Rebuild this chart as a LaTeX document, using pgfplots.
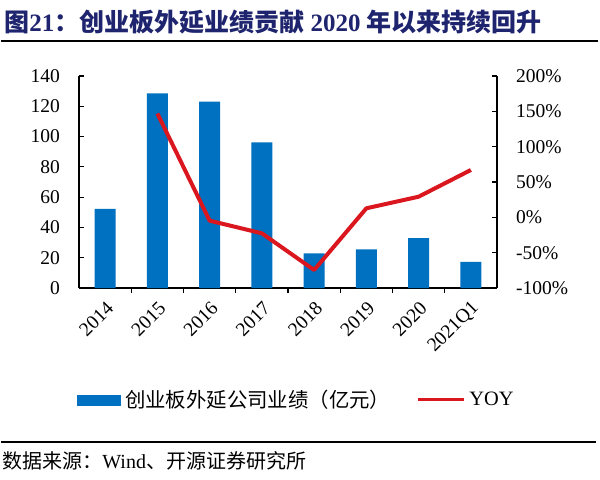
\documentclass[border=0pt]{standalone}
\usepackage{pgfplots}
\pgfplotsset{compat=1.18}
\usepackage{fontspec}
\setmainfont{Liberation Serif}
\newfontfamily\cjk{Noto Sans CJK SC}
\definecolor{barblue}{RGB}{0,112,192}
\definecolor{linered}{RGB}{218,22,30}
\definecolor{titleblue}{RGB}{30,36,110}
\begin{document}
\begin{tikzpicture}
\path[use as bounding box] (0,0) rectangle (300pt,239.5pt);
% title
\node[anchor=west, inner sep=0pt, text=titleblue, font=\fontsize{12.5}{14}\selectfont\bfseries] at (2pt,228.5pt)
  {{\cjk\bfseries 图}21{\cjk\bfseries ：创业板外延业绩贡献} 2020 {\cjk\bfseries 年以来持续回升}};
\draw[line width=1pt] (0.5pt,219pt) -- (299pt,219pt);
\draw[line width=1pt] (0.5pt,18.5pt) -- (298pt,18.5pt);
\node[anchor=west, inner sep=0pt, font=\fontsize{10}{12}\selectfont] at (1pt,9pt)
  {{\cjk 数据来源：}Wind{\cjk 、开源证券研究所}};

\begin{axis}[
  at={(39.5pt,95.5pt)}, anchor=south west,
  width=209pt, height=106pt, scale only axis,
  xmin=-0.5, xmax=7.5, ymin=0, ymax=140,
  axis x line*=bottom, axis y line*=left,
  axis line style={line width=0.6pt, -},
  tick align=inside,
  ytick={0,20,...,140},
  xtick={0,...,7},
  xticklabels={2014,2015,2016,2017,2018,2019,2020,2021Q1},
  minor xtick={0.5,1.5,...,6.5},
  major x tick style={draw=none},
  minor x tick style={black, line width=0.6pt},
  major y tick style={black, line width=0.6pt},
  major tick length=2.5pt, minor tick length=2.5pt,
  ticklabel style={font=\fontsize{9.75}{11}\selectfont},
  /pgf/number format/assume math mode=true,
  yticklabel style={xshift=-6pt},
  xticklabel style={rotate=45, anchor=east, xshift=1pt, yshift=-6pt},
  ybar, bar width=10.5pt,
]
\addplot[fill=barblue, draw=none, bar shift=0pt] coordinates {
(0,52.2) (1,128.6) (2,123.1) (3,96.2) (4,22.9) (5,25.5) (6,33.0) (7,17.2)};
\end{axis}

\begin{axis}[
  at={(39.5pt,95.5pt)}, anchor=south west,
  width=209pt, height=106pt, scale only axis,
  xmin=-0.5, xmax=7.5, ymin=-100, ymax=200,
  axis y line*=right, hide x axis,
  axis line style={line width=0.6pt, -},
  tick align=inside,
  ytick={-100,-50,...,200},
  major y tick style={black, line width=0.6pt},
  major tick length=2.5pt,
  ticklabel style={font=\fontsize{9.75}{11}\selectfont},
  /pgf/number format/assume math mode=true,
  yticklabel={\pgfmathprintnumber{\tick}\%},
  yticklabel style={xshift=6pt},
  legend columns=2,
  legend style={draw=none, fill=none, inner sep=0pt, at={(-0.005,-0.528)}, anchor=west,
    font=\fontsize{10.2}{12}\selectfont,
    /tikz/every even column/.append style={column sep=11pt}},
]
\addlegendimage{legend image code/.code={\fill[barblue] (0pt,-2.5pt) rectangle (21.5pt,2.5pt);}}
\addlegendentry{\cjk 创业板外延公司业绩（亿元）}
\addplot[linered, line width=2pt, line join=round, legend image code/.code={\draw[linered, line width=1.5pt] (0pt,0pt) -- (23pt,0pt);}] coordinates {
(1,147) (2,-4.7) (3,-22.6) (4,-74.5) (5,12.8) (6,29.2) (7,67)};
\addlegendentry{YOY}
\end{axis}
\end{tikzpicture}
\end{document}
